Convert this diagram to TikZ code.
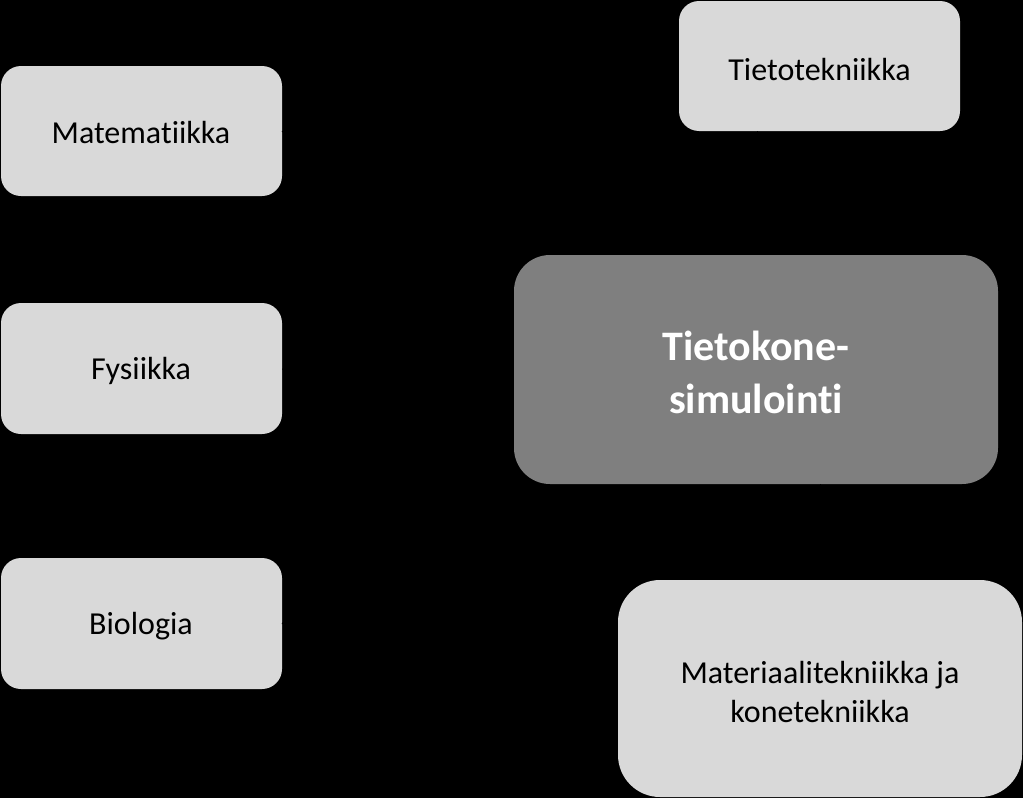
\documentclass[tikz,border=0pt]{standalone}
\usepackage{fontspec}
\setmainfont{Carlito}[Ligatures=NoCommon]
\usetikzlibrary{arrows.meta}
\definecolor{boxlight}{HTML}{D9D9D9}
\definecolor{boxdark}{HTML}{7F7F7F}
\begin{document}
\begin{tikzpicture}[x=1pt,y=-1pt,
  lightbox/.style={fill=boxlight, draw=none, text=black, align=center,
    font=\fontsize{32}{39}\selectfont},
  darkbox/.style={fill=boxdark, draw=none, text=white, align=center,
    font=\bfseries\fontsize{42}{53}\selectfont},
  link/.style={draw=black, line width=1pt, -{Latex[length=8pt]}}]
\useasboundingbox (0,0) rectangle (1023,798);
\clip (0,0) rectangle (1023,798);
\fill[black] (0,0) rectangle (1023,798);
% boxes
\fill[boxlight, rounded corners=20pt] (1,66) rectangle (282,196);
\node[lightbox] (mat) at (141,133) {Matematiikka};
\fill[boxlight, rounded corners=20pt] (1,303) rectangle (282,434);
\node[lightbox] (fys) at (141,371) {Fysiikka};
\fill[boxlight, rounded corners=20pt] (1,558) rectangle (282,689);
\node[lightbox] (bio) at (141,626) {Biologia};
\fill[boxlight, rounded corners=20pt] (679,1) rectangle (960,131);
\node[lightbox] (tt) at (819.5,70) {Tietotekniikka};
\fill[boxdark, rounded corners=36pt] (514,255) rectangle (998,484);
\node[darkbox] (sim) at (756,372) {Tietokone-\\simulointi};
\fill[boxlight, rounded corners=42pt] (618,580) rectangle (1022,797);
\node[lightbox] (mk) at (820,692) {Materiaalitekniikka ja\\konetekniikka};
% anchors on box edges
\coordinate (matE) at (282,131);
\coordinate (fysE) at (282,369);
\coordinate (bioE) at (282,624);
\coordinate (ttS) at (757,131);
\coordinate (simW) at (514,370);
\coordinate (simN) at (757,255);
\coordinate (simS) at (820,484);
\coordinate (mkN) at (820,580);
% connectors (black on black, as in the reference)
\draw[link] (matE) -- (simW);
\draw[link] (fysE) -- (simW);
\draw[link] (bioE) -- (simW);
\draw[link] (ttS) -- (simN);
\draw[link] (simS) -- (mkN);
\end{tikzpicture}
\end{document}
